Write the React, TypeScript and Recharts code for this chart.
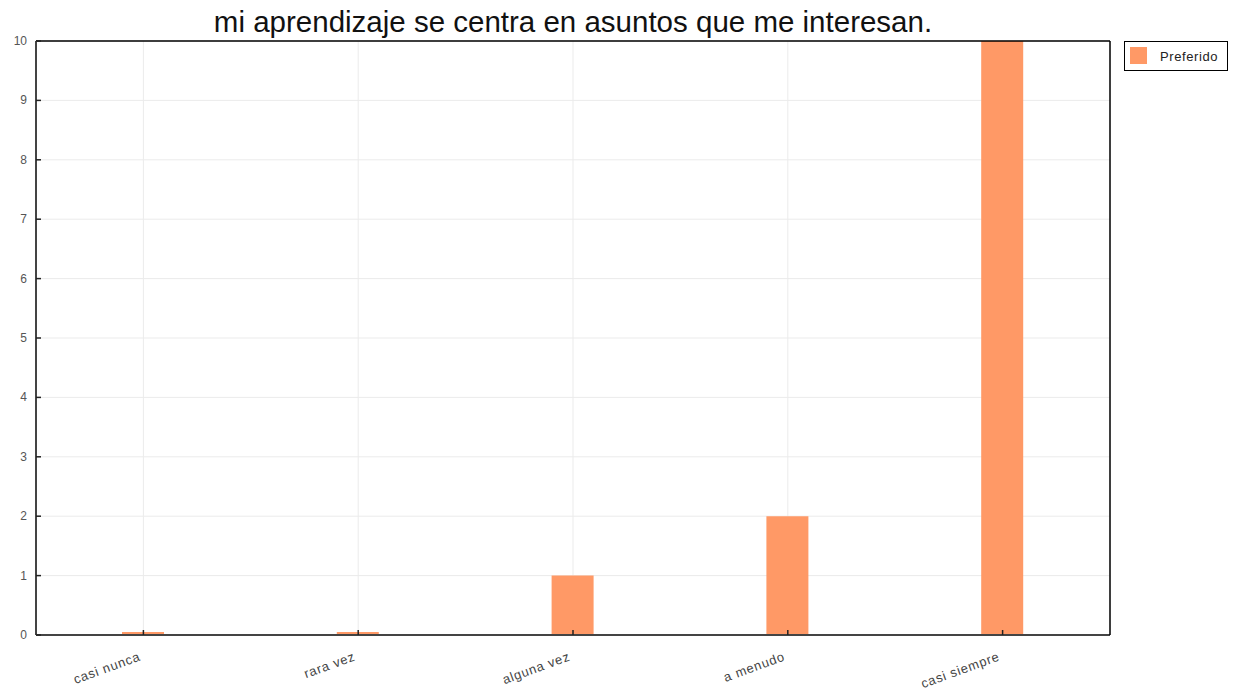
import React from "react";
import { BarChart, Bar, XAxis, YAxis, CartesianGrid, Legend } from "recharts";

const categories = ["casi nunca", "rara vez", "alguna vez", "a menudo", "casi siempre"];
const preferido = [0, 0, 1, 2, 10];
const yTicks = [0, 1, 2, 3, 4, 5, 6, 7, 8, 9, 10];
const seriesName = "Preferido";
const title = "mi aprendizaje se centra en asuntos que me interesan.";

const data = categories.map((c, i) => ({ name: c, value: preferido[i] }));

const BAR_COLOR = "#ff9966";
const FONT = "'Liberation Sans', Arial, sans-serif";

const XTick = (props: any) => {
  const { x, y, payload } = props;
  const ty = y + 25;
  const tx = x - 2;
  return (
    <g>
      <line x1={x} x2={x} y1={y} y2={y - 5} stroke="#222" strokeWidth={1.5} />
      <text
        x={tx}
        y={ty}
        textAnchor="end"
        fontSize={13}
        letterSpacing={0.8}
        fill="#444"
        fontFamily={FONT}
        transform={`rotate(-20, ${tx}, ${ty})`}
      >
        {payload.value}
      </text>
    </g>
  );
};

const YTick = (props: any) => {
  const { x, y, payload } = props;
  return (
    <g>
      <line x1={x} x2={x + 5} y1={y} y2={y} stroke="#222" strokeWidth={1.5} />
      <text x={x - 9} y={y + 4} textAnchor="end" fontSize={12} fill="#555" fontFamily={FONT}>
        {payload.value}
      </text>
    </g>
  );
};

const LegendContent = () => (
  <div
    style={{
      width: 102,
      height: 28,
      border: "1px solid #000",
      background: "#fff",
      position: "relative",
      fontFamily: FONT,
      fontSize: 13,
      letterSpacing: 0.6,
      color: "#222",
    }}
  >
    <div style={{ position: "absolute", left: 5, top: 5, width: 17, height: 17, background: BAR_COLOR }} />
    <div style={{ position: "absolute", left: 35, top: 7, lineHeight: "15px" }}>{seriesName}</div>
  </div>
);

export default function App() {
  return (
    <div style={{ position: "absolute", left: 0, top: 0, width: 1238, height: 696, background: "#fff" }}>
      <div
        style={{
          position: "absolute",
          left: 36,
          width: 1074,
          top: 5,
          textAlign: "center",
          fontFamily: FONT,
          fontSize: 29.5,
          lineHeight: "34px",
          color: "#111",
        }}
      >
        {title}
      </div>
      <BarChart
        width={1238}
        height={696}
        data={data}
        margin={{ top: 40, right: 23, bottom: 21, left: 0 }}
        barCategoryGap={0}
      >
        <CartesianGrid stroke="#ebebeb" strokeWidth={1} />
        <XAxis
          dataKey="name"
          height={40}
          tickSize={0}
          tickMargin={0}
          tick={<XTick />}
          tickLine={false}
          axisLine={{ stroke: "#444", strokeWidth: 2 }}
          interval={0}
        />
        <XAxis
          xAxisId="top"
          orientation="top"
          dataKey="name"
          height={1}
          tick={false}
          tickLine={false}
          axisLine={{ stroke: "#000", strokeWidth: 1.5 }}
        />
        <YAxis
          width={36}
          domain={[0, 10]}
          ticks={yTicks}
          tickSize={0}
          tickMargin={0}
          tick={<YTick />}
          tickLine={false}
          axisLine={{ stroke: "#444", strokeWidth: 2 }}
          interval={0}
        />
        <YAxis
          yAxisId="right"
          orientation="right"
          width={1}
          domain={[0, 10]}
          tick={false}
          tickLine={false}
          axisLine={{ stroke: "#000", strokeWidth: 1.5 }}
        />
        <Legend
          layout="vertical"
          align="right"
          verticalAlign="top"
          content={<LegendContent />}
          wrapperStyle={{ position: "absolute", left: 1124, top: 41, width: 104, height: 30 }}
        />
        <Bar dataKey="value" name={seriesName} fill={BAR_COLOR} barSize={42} minPointSize={3} isAnimationActive={false} />
      </BarChart>
    </div>
  );
}
